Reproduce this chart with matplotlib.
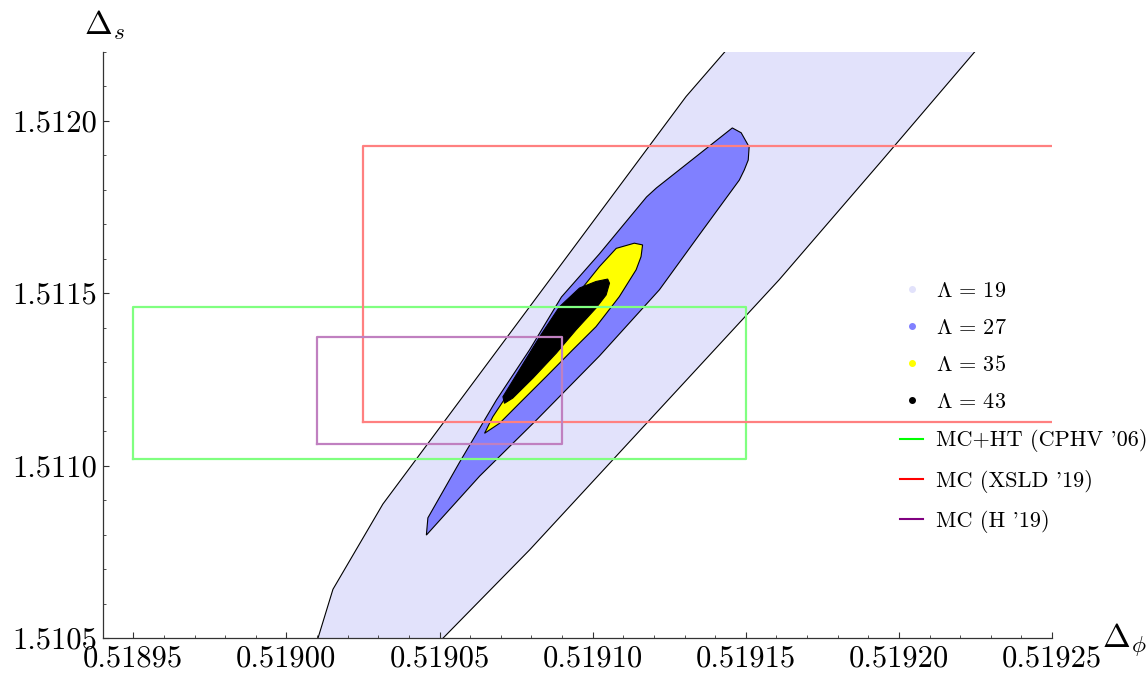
import matplotlib
matplotlib.use("Agg")
import matplotlib.pyplot as plt
from matplotlib.lines import Line2D
from matplotlib.ticker import FormatStrFormatter, MultipleLocator
import numpy as np

plt.rcParams['font.family'] = 'serif'
plt.rcParams['font.serif'] = ['cmr10']
plt.rcParams['mathtext.fontset'] = 'cm'
plt.rcParams['axes.unicode_minus'] = False

# Contour regions (Delta_phi, Delta_s)
# Lambda = 19 band: left and right boundaries, bottom to top
band_left_x = [0.5190103, 0.5190152, 0.5190315, 0.5191305, 0.5191432]
band_left_y = [1.510500, 1.510642, 1.510889, 1.512070, 1.512200]
band_right_x = [0.5190511, 0.5190794, 0.5191609, 0.5191946, 0.5192248]
band_right_y = [1.510500, 1.510756, 1.511539, 1.511886, 1.512200]

# Lambda = 27
blue_x = [0.5190457, 0.5190462, 0.5190566, 0.5190686, 0.5190794, 0.5190898,
          0.5191022, 0.5191176, 0.5191208, 0.5191456, 0.5191485, 0.5191511,
          0.5191508, 0.5191495, 0.5191479, 0.5191348, 0.5191218, 0.5191022,
          0.5190817, 0.5190631]
blue_y = [1.510799, 1.510849, 1.511011, 1.511191, 1.511336, 1.511489,
          1.511614, 1.511779, 1.511805, 1.511979, 1.511965, 1.511924,
          1.511886, 1.511857, 1.511828, 1.511669, 1.511510, 1.511318,
          1.511133, 1.510970]

# Lambda = 35
yellow_x = [0.5190647, 0.5190674, 0.5190739, 0.5190816, 0.5190897, 0.5190957,
            0.5191022, 0.5191077, 0.5191136, 0.5191163, 0.5191158, 0.5191142,
            0.5191087, 0.5191011, 0.5190935, 0.5190848, 0.5190761, 0.5190696]
yellow_y = [1.511094, 1.511142, 1.511229, 1.511336, 1.511442, 1.511505,
            1.511577, 1.511630, 1.511645, 1.511640, 1.511606, 1.511568,
            1.511490, 1.511403, 1.511336, 1.511258, 1.511181, 1.511123]

# Lambda = 43
black_x = [0.5190712, 0.5190707, 0.5190761, 0.5190827, 0.5190892, 0.5190957,
           0.5191011, 0.5191049, 0.5191055, 0.5191044, 0.5191011, 0.5190946,
           0.5190881, 0.5190805, 0.5190739]
black_y = [1.511181, 1.511200, 1.511278, 1.511374, 1.511461, 1.511515,
           1.511534, 1.511541, 1.511529, 1.511495, 1.511457, 1.511394,
           1.511326, 1.511254, 1.511196]

lambdas = [19, 27, 35, 43]
region_colors = ['#e2e2fb', '#8080ff', '#ffff00', '#000000']

# Measurement boxes: (x_min, x_max, y_min, y_max)
box_labels = ["MC+HT (CPHV '06)", "MC (XSLD '19)", "MC (H '19)"]
box_ranges = [(0.51895, 0.51915, 1.51102, 1.51146),
              (0.519025, 0.51930, 1.511128, 1.511927),
              (0.51901, 0.51909, 1.511063, 1.511372)]
box_colors = ['#80ff80', '#ff8080', '#c080c0']
legend_line_colors = ['#00ff00', '#ff0000', '#800080']

fig = plt.figure(figsize=(11.47, 6.73), dpi=100)
ax = fig.add_axes([0.0895, 0.0516, 0.9172 - 0.0895, 0.9232 - 0.0516])

# band
bx = band_left_x + band_right_x[::-1]
by = band_left_y + band_right_y[::-1]
ax.fill(bx, by, color=region_colors[0], lw=0, zorder=1)
ax.plot(band_left_x, band_left_y, color='k', lw=0.8, zorder=2)
ax.plot(band_right_x, band_right_y, color='k', lw=0.8, zorder=2)

for xs, ys, c, z in [(blue_x, blue_y, region_colors[1], 3),
                     (yellow_x, yellow_y, region_colors[2], 4),
                     (black_x, black_y, region_colors[3], 5)]:
    ax.fill(xs, ys, facecolor=c, edgecolor='k', lw=0.8, zorder=z)

for (x0, x1, y0, y1), c in zip(box_ranges, box_colors):
    ax.plot([x0, x1, x1, x0, x0], [y0, y0, y1, y1, y0], color=c, lw=1.6,
            zorder=6)

ax.set_xlim(0.51894, 0.51925)
ax.set_ylim(1.5105, 1.5122)
ax.spines['top'].set_visible(False)
ax.spines['right'].set_visible(False)
for s in ['left', 'bottom']:
    ax.spines[s].set_linewidth(0.9)
    ax.spines[s].set_color('#333333')
    ax.spines[s].set_zorder(7)
ax.xaxis.set_major_locator(MultipleLocator(0.00005))
ax.xaxis.set_minor_locator(MultipleLocator(0.00001))
ax.yaxis.set_major_locator(MultipleLocator(0.0005))
ax.yaxis.set_minor_locator(MultipleLocator(0.0001))
ax.xaxis.set_major_formatter(FormatStrFormatter('%.5f'))
ax.yaxis.set_major_formatter(FormatStrFormatter('%.4f'))
ax.tick_params(which='both', direction='in', labelsize=22, pad=4, color='#333333')
ax.tick_params(which='major', length=4, width=0.8)
ax.tick_params(which='minor', length=2.5, width=0.6)
ax.tick_params(axis='x', pad=5)

fig.text(0.091, 0.937, r'$\Delta_s$', fontsize=24, ha='center', va='bottom')
fig.text(0.980, 0.022, r'$\Delta_\phi$', fontsize=24, ha='center', va='bottom')

handles = []
labels = []
for lam, c in zip(lambdas, region_colors):
    handles.append(Line2D([], [], ls='', marker='o', ms=4, color=c))
    labels.append(r'$\Lambda\, =\, %d$' % lam)
for lab, c in zip(box_labels, legend_line_colors):
    handles.append(Line2D([], [], color=c, lw=1.5))
    labels.append(lab)
ax.legend(handles, labels, frameon=False, fontsize=16, loc='upper left',
          bbox_to_anchor=(0.785, 0.582), bbox_transform=fig.transFigure,
          handlelength=1.0, handletextpad=0.6, labelspacing=0.78,
          borderpad=0, borderaxespad=0)

fig.savefig('out.png', dpi=100)
